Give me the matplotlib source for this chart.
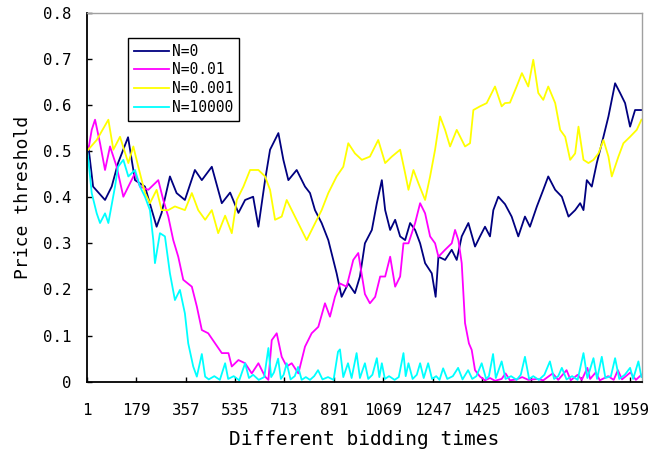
import matplotlib
matplotlib.use("Agg")
import matplotlib.pyplot as plt

# ---- data ----
x_n0 = [1, 6, 23, 66, 90, 113, 149, 174, 210, 252, 270, 300, 324, 354, 390, 415, 451, 487, 517,
        547, 571, 600, 619, 643, 661, 691, 709, 727, 757, 787, 805, 823, 847, 871, 901, 919, 943,
        967, 985, 1003, 1028, 1046, 1064, 1076, 1094, 1112, 1130, 1148, 1166, 1184, 1202, 1220,
        1244, 1258, 1268, 1292, 1316, 1334, 1352, 1376, 1400, 1418, 1436, 1454, 1466, 1484, 1508,
        1532, 1556, 1580, 1598, 1623, 1646, 1664, 1689, 1713, 1737, 1761, 1779, 1791, 1803, 1821,
        1839, 1863, 1881, 1905, 1923, 1941, 1959, 1977, 2000]
y_n0 = [0.50, 0.51, 0.423, 0.394, 0.423, 0.474, 0.53, 0.437, 0.423, 0.336, 0.366, 0.445, 0.409,
        0.394, 0.459, 0.437, 0.466, 0.387, 0.41, 0.366, 0.394, 0.401, 0.336, 0.437, 0.503, 0.539,
        0.481, 0.437, 0.459, 0.423, 0.409, 0.372, 0.344, 0.307, 0.235, 0.184, 0.213, 0.192, 0.228,
        0.30, 0.329, 0.387, 0.437, 0.372, 0.329, 0.351, 0.315, 0.307, 0.344, 0.329, 0.300, 0.257,
        0.235, 0.184, 0.271, 0.264, 0.286, 0.264, 0.315, 0.344, 0.293, 0.315, 0.336, 0.315, 0.372,
        0.401, 0.385, 0.358, 0.315, 0.358, 0.336, 0.380, 0.416, 0.445, 0.416, 0.401, 0.358, 0.372,
        0.387, 0.372, 0.437, 0.423, 0.474, 0.531, 0.575, 0.647, 0.626, 0.604, 0.553, 0.589, 0.589]

x_n001 = [1, 6, 18, 30, 48, 66, 84, 108, 132, 150, 174, 192, 222, 258, 276, 294, 312, 330, 348,
          379, 397, 415, 438, 463, 487, 511, 523, 547, 571, 595, 619, 643, 655, 667, 685, 703, 721,
          739, 763, 787, 811, 835, 859, 877, 895, 913, 937, 961, 979, 1003, 1021, 1040, 1058, 1076,
          1094, 1112, 1130, 1142, 1160, 1184, 1202, 1220, 1238, 1256, 1268, 1292, 1316, 1328, 1340,
          1352, 1364, 1378, 1388, 1400, 1418, 1436, 1454, 1472, 1496, 1510, 1526, 1550, 1570, 1592,
          1625, 1646, 1680, 1700, 1730, 1745, 1770, 1785, 1805, 1815, 1835, 1850, 1880, 1900, 1915,
          1930, 1960, 1980, 2000]
y_n001 = [0.50, 0.503, 0.546, 0.568, 0.517, 0.459, 0.510, 0.466, 0.401, 0.423, 0.452, 0.423, 0.416,
          0.437, 0.394, 0.358, 0.307, 0.271, 0.221, 0.206, 0.163, 0.112, 0.105, 0.083, 0.062, 0.062,
          0.033, 0.047, 0.040, 0.018, 0.040, 0.011, 0.004, 0.090, 0.105, 0.054, 0.033, 0.040, 0.018,
          0.076, 0.105, 0.119, 0.170, 0.141, 0.184, 0.213, 0.206, 0.264, 0.279, 0.19, 0.17, 0.184,
          0.228, 0.228, 0.271, 0.206, 0.228, 0.300, 0.300, 0.344, 0.387, 0.365, 0.315, 0.300, 0.271,
          0.286, 0.300, 0.329, 0.307, 0.257, 0.127, 0.083, 0.069, 0.025, 0.011, 0.003, 0.008, 0.002,
          0.006, 0.018, 0.003, 0.005, 0.010, 0.004, 0.006, 0.003, 0.018, 0.004, 0.025, 0.003, 0.015,
          0.004, 0.030, 0.006, 0.020, 0.003, 0.012, 0.004, 0.025, 0.005, 0.020, 0.004, 0.015]

x_n0001 = [1, 36, 78, 96, 120, 150, 168, 186, 210, 228, 252, 270, 294, 318, 354, 379, 402, 427, 451,
           474, 499, 523, 541, 565, 589, 619, 643, 661, 679, 703, 721, 745, 769, 793, 817, 847, 871,
           901, 925, 943, 967, 992, 1021, 1051, 1076, 1100, 1130, 1148, 1160, 1178, 1196, 1220, 1238,
           1256, 1274, 1292, 1310, 1334, 1364, 1382, 1394, 1418, 1442, 1472, 1496, 1508, 1526, 1550,
           1569, 1592, 1610, 1628, 1646, 1664, 1689, 1707, 1725, 1743, 1761, 1773, 1791, 1809, 1827,
           1845, 1863, 1881, 1893, 1917, 1935, 1959, 1983, 2000]
y_n0001 = [0.50, 0.524, 0.568, 0.503, 0.531, 0.474, 0.510, 0.466, 0.409, 0.387, 0.416, 0.372, 0.372,
           0.380, 0.372, 0.409, 0.372, 0.351, 0.372, 0.322, 0.36, 0.322, 0.394, 0.423, 0.459, 0.459,
           0.445, 0.416, 0.351, 0.358, 0.394, 0.365, 0.336, 0.307, 0.336, 0.372, 0.409, 0.445, 0.466,
           0.517, 0.495, 0.481, 0.488, 0.524, 0.474, 0.488, 0.503, 0.452, 0.416, 0.459, 0.430, 0.394,
           0.445, 0.503, 0.575, 0.546, 0.510, 0.546, 0.510, 0.517, 0.589, 0.597, 0.604, 0.640, 0.597,
           0.604, 0.605, 0.640, 0.669, 0.640, 0.698, 0.626, 0.611, 0.640, 0.604, 0.546, 0.531, 0.481,
           0.495, 0.553, 0.481, 0.474, 0.481, 0.495, 0.524, 0.488, 0.445, 0.488, 0.517, 0.531, 0.546,
           0.568]

x_n10000 = [1, 6, 18, 36, 48, 66, 78, 102, 113, 132, 150, 174, 192, 210, 228, 240, 246, 264, 282,
            300, 318, 336, 354, 366, 384, 397, 415, 427, 440, 460, 480, 499, 510, 530, 550, 571, 585,
            600, 620, 640, 655, 665, 675, 690, 700, 710, 721, 735, 750, 762, 775, 790, 805, 820, 834,
            850, 870, 890, 906, 913, 925, 942, 955, 973, 985, 1003, 1015, 1030, 1046, 1055, 1064,
            1075, 1090, 1110, 1125, 1142, 1150, 1160, 1175, 1190, 1202, 1215, 1231, 1245, 1260, 1272,
            1285, 1300, 1320, 1339, 1355, 1375, 1390, 1405, 1424, 1440, 1450, 1465, 1475, 1496, 1510,
            1530, 1550, 1565, 1580, 1595, 1610, 1630, 1650, 1670, 1685, 1700, 1713, 1730, 1750, 1770,
            1791, 1805, 1827, 1840, 1857, 1870, 1890, 1905, 1920, 1940, 1959, 1970, 1989, 2000]
y_n10000 = [0.50, 0.481, 0.409, 0.365, 0.344, 0.365, 0.344, 0.423, 0.466, 0.481, 0.445, 0.459, 0.423,
            0.401, 0.372, 0.307, 0.257, 0.322, 0.315, 0.235, 0.177, 0.199, 0.148, 0.083, 0.033, 0.011,
            0.06, 0.011, 0.005, 0.012, 0.004, 0.040, 0.006, 0.012, 0.003, 0.040, 0.008, 0.015, 0.004,
            0.010, 0.073, 0.010, 0.020, 0.050, 0.006, 0.015, 0.040, 0.005, 0.012, 0.032, 0.004, 0.010,
            0.004, 0.012, 0.025, 0.005, 0.010, 0.004, 0.065, 0.070, 0.010, 0.040, 0.008, 0.062, 0.008,
            0.040, 0.006, 0.015, 0.051, 0.010, 0.040, 0.006, 0.012, 0.004, 0.010, 0.062, 0.012, 0.040,
            0.006, 0.015, 0.040, 0.008, 0.040, 0.006, 0.012, 0.004, 0.029, 0.006, 0.012, 0.030, 0.005,
            0.025, 0.006, 0.012, 0.040, 0.006, 0.012, 0.060, 0.008, 0.044, 0.006, 0.012, 0.004, 0.015,
            0.054, 0.006, 0.012, 0.004, 0.015, 0.044, 0.006, 0.012, 0.030, 0.005, 0.012, 0.004, 0.062,
            0.008, 0.051, 0.006, 0.054, 0.008, 0.012, 0.051, 0.006, 0.015, 0.030, 0.006, 0.044, 0.010]

series_labels = ["N=0", "N=0.01", "N=0.001", "N=10000"]
x_ticks = [1, 179, 357, 535, 713, 891, 1069, 1247, 1425, 1603, 1781, 1959]
y_ticks = [0, 0.1, 0.2, 0.3, 0.4, 0.5, 0.6, 0.7, 0.8]
y_tick_labels = ["0", "0.1", "0.2", "0.3", "0.4", "0.5", "0.6", "0.7", "0.8"]

# ---- figure ----
plt.rcParams['font.family'] = ['DejaVu Sans Mono']
fig = plt.figure(figsize=(6.62, 4.53), dpi=100)
ax = fig.add_axes([87/662, 1-381.7/453, (642-87)/662, (381.7-12.7)/453])

colors = ["#000080", "#FF00FF", "#FFFF00", "#00FFFF"]
data = [(x_n0, y_n0), (x_n001, y_n001), (x_n0001, y_n0001), (x_n10000, y_n10000)]
for (xs, ys), c, lab in zip(data, colors, series_labels):
    ax.plot(xs, ys, color=c, lw=1.3, label=lab)

ax.set_xlim(1, 2002)
ax.set_ylim(0, 0.8)
ax.set_xticks(x_ticks)
ax.set_xticklabels([str(t) for t in x_ticks])
ax.set_yticks(y_ticks)
ax.set_yticklabels(y_tick_labels)
ax.tick_params(axis='both', direction='in', length=3.5, width=1, labelsize=11.3, colors='black')
ax.tick_params(axis='x', pad=15)
ax.tick_params(axis='y', pad=11)

for s in ['left', 'bottom']:
    ax.spines[s].set_color('black')
    ax.spines[s].set_linewidth(1.3)
for s in ['top', 'right']:
    ax.spines[s].set_color('#a0a0a0')
    ax.spines[s].set_linewidth(1.0)

ax.set_xlabel("Different bidding times", fontsize=14, labelpad=9)
ax.set_ylabel("Price threshold", fontsize=13, labelpad=8)

leg = ax.legend(loc='upper left', bbox_to_anchor=(128/662, 1-38/453),
                bbox_transform=fig.transFigure, borderaxespad=0, fontsize=10.5,
                handlelength=2.4, handletextpad=0.2, labelspacing=0.25, borderpad=0.4,
                fancybox=False, framealpha=1)
leg.get_frame().set_edgecolor('black')
leg.get_frame().set_linewidth(1.0)
for line in leg.get_lines():
    line.set_linewidth(1.3)

fig.savefig("out.png", dpi=100)
